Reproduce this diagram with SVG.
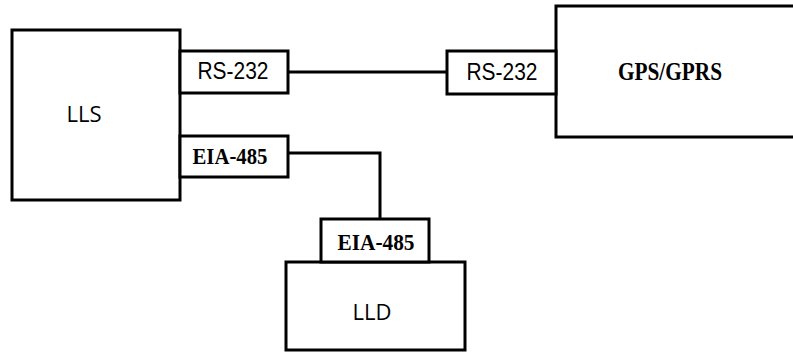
<svg xmlns="http://www.w3.org/2000/svg" width="793" height="352" viewBox="0 0 793 352">
<style>
.box{fill:#fff;stroke:#000;stroke-width:3}
.wire{fill:none;stroke:#000;stroke-width:3}
.sans{font-family:"Liberation Sans",Arial,sans-serif;font-size:23px;fill:#000;text-anchor:middle}
.serif{font-family:"Liberation Serif","Times New Roman",serif;font-size:24px;font-weight:bold;fill:#000;text-anchor:middle}
.big{font-size:25px}
.label{font-family:"Open Sans","Noto Sans",sans-serif;font-size:22px;fill:#000;text-anchor:middle}
</style>
<rect width="793" height="352" fill="#fff"/>
<g id="connectors">
<line class="wire" x1="288" y1="72" x2="447" y2="72"/>
<polyline class="wire" points="288,153 380,153 380,219"/>
</g>
<g id="lls">
<rect class="box" x="12" y="30" width="168" height="170"/>
<text class="label" x="84" y="122">LLS</text>
</g>
<g id="lls-rs232">
<rect class="box" x="180" y="51" width="108" height="42"/>
<text class="sans" x="233" y="79" textLength="71" lengthAdjust="spacingAndGlyphs">RS-232</text>
</g>
<g id="lls-eia485">
<rect class="box" x="180" y="136" width="108" height="41"/>
<text class="serif" x="230" y="164" textLength="75" lengthAdjust="spacingAndGlyphs">EIA-485</text>
</g>
<g id="gps">
<rect class="box" x="556" y="6" width="260" height="131"/>
<text class="serif big" x="670" y="80" textLength="104" lengthAdjust="spacingAndGlyphs">GPS/GPRS</text>
</g>
<g id="gps-rs232">
<rect class="box" x="447" y="51" width="109" height="43"/>
<text class="sans" x="502" y="80" textLength="71" lengthAdjust="spacingAndGlyphs">RS-232</text>
</g>
<g id="lld">
<rect class="box" x="286" y="262" width="179" height="88"/>
<text class="label" x="372" y="320">LLD</text>
</g>
<g id="lld-eia485">
<rect class="box" x="321" y="219" width="108" height="43"/>
<text class="serif" x="376" y="250" textLength="77" lengthAdjust="spacingAndGlyphs">EIA-485</text>
</g>
</svg>
